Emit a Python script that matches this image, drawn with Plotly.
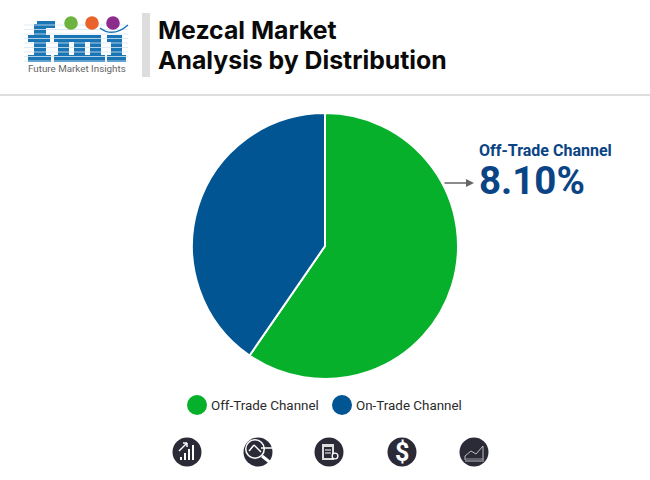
"""Mezcal market pie by distribution channel, with the FMI header and icon row."""

import plotly.graph_objects as go

channels = ["Off-Trade Channel", "On-Trade Channel"]
shares = [59.6, 40.4]
title_lines = ["Mezcal Market", "Analysis by Distribution"]
callout_label = "Off-Trade Channel"
callout_value = "8.10%"
logo_caption = "Future Market Insights"

_W, _H = 650, 480
_GREEN = "#07B02B"
_NAVY = "#015592"
_CALLOUT = "#0A4484"
_LOGO_BLUE = "#1A75B5"
_ICON = "#2B2B38"
_RULE = "#DDDDDD"


def _x(px):
    return px / _W


def _y(px):
    return 1 - px / _H


def _rect(x0, y0, x1, y1, color):
    return dict(type="rect", xref="paper", yref="paper", x0=_x(x0), x1=_x(x1),
                y0=_y(y0), y1=_y(y1), fillcolor=color, line_width=0)


def _circle(cx, cy, r, color):
    return dict(type="circle", xref="paper", yref="paper", x0=_x(cx - r), x1=_x(cx + r),
                y0=_y(cy - r), y1=_y(cy + r), fillcolor=color, line_width=0)


def _line(x0, y0, x1, y1, color="white", width=1.5):
    return dict(type="line", xref="paper", yref="paper", x0=_x(x0), x1=_x(x1),
                y0=_y(y0), y1=_y(y1), line=dict(color=color, width=width))


def _text(text, x, y, size, color, family="Roboto", anchor="left", **kw):
    return dict(text=text, xref="paper", yref="paper", x=_x(x), y=_y(y), showarrow=False,
                xanchor=anchor, yanchor="middle",
                font=dict(size=size, color=color, family=family), **kw)


fig = go.Figure(
    go.Pie(
        labels=channels,
        values=shares,
        sort=False,
        direction="clockwise",
        rotation=0,
        marker=dict(colors=[_GREEN, _NAVY], line=dict(color="white", width=2)),
        textinfo="none",
        hoverinfo="label+percent",
        domain=dict(x=[_x(192), _x(458)], y=[_y(379), _y(113)]),
        showlegend=False,
    )
)

shapes = [_rect(0, 94, _W, 96, _RULE), _rect(142, 13, 150, 77, _RULE)]

# logo letters: blocks cut by thin pale stripes
for block in [(34, 24, 46, 62), (28, 35, 50, 42), (37, 21, 55, 28), (28, 55, 51, 62),
              (54, 35, 101, 42), (58, 35, 69, 62), (74, 35, 85, 62), (90, 35, 101, 62),
              (54, 55, 72, 62), (72, 55, 88, 62), (88, 55, 105, 62),
              (107, 35, 122, 42), (111, 35, 122, 62), (107, 55, 126, 62)]:
    shapes.append(_rect(*block, _LOGO_BLUE))
for stripe_y in (25, 29.5, 34, 38.5, 43, 47.5, 52, 56.5, 61):
    shapes.append(_line(24, stripe_y, 128, stripe_y, "#D5E6F2", 0.8))
shapes += [_circle(71, 23, 6.8, "#6DB33F"), _circle(92, 23, 6.8, "#E8622A"),
           _circle(113, 23, 6.8, "#8E2C8E")]
shapes.append(dict(type="path", xref="paper", yref="paper",
                   path=f"M {_x(100)},{_y(28)} Q {_x(113)},{_y(38)} {_x(128)},{_y(25)}",
                   line=dict(color=_LOGO_BLUE, width=1.5)))

# legend dots
shapes += [_circle(197, 405, 10, _GREEN), _circle(342, 405, 10, _NAVY)]

# icon row
for cx in (187, 258, 329, 402, 474):
    shapes.append(_circle(cx, 452, 14.5, _ICON))
for i, top in enumerate((457, 453, 449, 445)):
    shapes.append(_line(181 + i * 4, 460, 181 + i * 4, top, width=2))
shapes += [_line(179, 451, 187, 443), _line(183, 443, 187, 443), _line(187, 443, 187, 447)]
shapes += [_circle(255, 449, 10, "white"), _circle(255, 449, 8.5, _ICON),
           _line(262, 456, 272, 464, width=3), _line(249, 451, 254, 445), _line(254, 445, 261, 452),
           _line(261, 448, 273, 448)]
shapes += [_rect(322, 444, 334, 460, "#DDDDDD"), _rect(324, 447, 332, 458, _ICON),
           _line(325, 450, 331, 450, width=1), _line(325, 453, 331, 453, width=1),
           _circle(335, 456, 3.5, "white"), _circle(335, 456, 2.2, _ICON)]
shapes += [_line(465, 461, 484, 461, "#BDBDC2", 1), _line(465, 456, 471, 451, "#BDBDC2", 1),
           _line(471, 451, 476, 454, "#BDBDC2", 1), _line(476, 454, 483, 446, "#BDBDC2", 1),
           _line(483, 446, 483, 460, "#BDBDC2", 1), _line(465, 456, 465, 460, "#BDBDC2", 1),
           _line(465, 459, 484, 459, "#9A9AA2", 1)]

annotations = [
    _text(f"<b>{title_lines[0]}</b>", 156, 30, 24.8, "#0A0A0A", "Inter"),
    _text(f"<b>{title_lines[1]}</b>", 156, 60, 24.8, "#0A0A0A", "Inter"),
    _text(logo_caption, 25.5, 68.5, 9.8, "#666666"),
    _text(f"<b>{callout_label}</b>", 477, 150.5, 16, _CALLOUT, height=20),
    _text(f"<b>{callout_value}</b>", 477, 180.5, 38.5, _CALLOUT, height=38),
    _text(channels[0], 209, 405.5, 13.4, "#2A2A2A"),
    _text(channels[1], 353.5, 405.5, 13.4, "#2A2A2A"),
    _text("<b>$</b>", 402, 452, 25, "white", anchor="center"),
    dict(x=_x(474), y=_y(183), ax=-31, ay=0, xref="paper", yref="paper",
         text="", showarrow=True, arrowhead=2,
         arrowsize=1, arrowwidth=1.6, arrowcolor="#666666"),
]

fig.update_layout(
    width=_W,
    height=_H,
    margin=dict(l=0, r=0, t=0, b=0),
    paper_bgcolor="white",
    plot_bgcolor="white",
    shapes=shapes,
    annotations=annotations,
)

fig.write_html("out.html", config=dict(displayModeBar=False),
               post_script="document.body.style.margin='0';")
